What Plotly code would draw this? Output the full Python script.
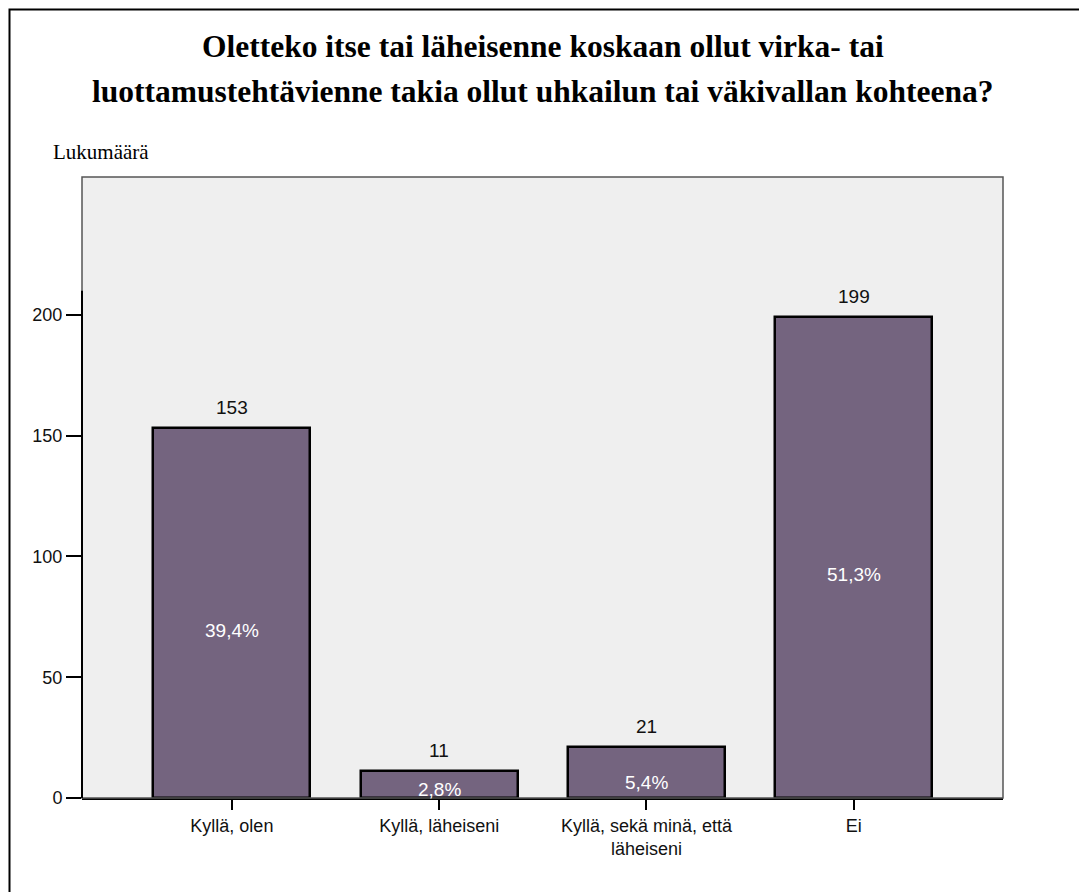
import plotly.graph_objects as go

categories = ["Kyllä, olen", "Kyllä, läheiseni", "Kyllä, sekä minä, että<br>läheiseni", "Ei"]
counts = [153, 11, 21, 199]
percents = ["39,4%", "2,8%", "5,4%", "51,3%"]
y_ticks = [0, 50, 100, 150, 200]

title_lines = [
    "Oletteko itse tai läheisenne koskaan ollut virka- tai",
    "luottamustehtävienne takia ollut uhkailun tai väkivallan kohteena?",
]
y_title = "Lukumäärä"

# page body has an 8px margin; work in screenshot coordinates and offset
OFF = 8
W, H = 1087 - OFF, 892 - OFF
L, T = 82 - OFF, 177 - OFF
pw, ph = 921, 621
R, B = W - L - pw, H - T - ph

def px_x(x):
    return (x - OFF - L) / pw

def px_y(y):
    return 1 - (y - OFF - T) / ph

BAR_COLOR = "#74647f"
SANS = "Liberation Sans, Arial, sans-serif"
SERIF = "Liberation Serif, Times New Roman, serif"

x_idx = list(range(len(categories)))

fig = go.Figure()
fig.add_trace(go.Bar(
    x=x_idx, y=counts, width=0.757,
    marker=dict(color=BAR_COLOR, line=dict(color="black", width=2.5)),
    hoverinfo="skip",
))

# count labels above bars
for i, c in enumerate(counts):
    fig.add_annotation(x=i, y=c, text=str(c), showarrow=False, yshift=21,
                       yanchor="middle",
                       font=dict(family=SANS, size=19, color="#111"))

# percent labels inside bars
shifts = [-17, -5, -10, -17]
for i, (c, p) in enumerate(zip(counts, percents)):
    fig.add_annotation(x=i, y=c / 2, text=p, showarrow=False, yshift=shifts[i],
                       font=dict(family=SANS, size=19, color="white"))

# title lines
for k, line in enumerate(title_lines):
    fig.add_annotation(x=0.5, xref="paper", xanchor="center",
                       y=px_y(47 + 44 * k), yref="paper", yanchor="middle",
                       text=f"<b>{line}</b>", showarrow=False,
                       font=dict(family=SERIF, size=31.5, color="black"))

fig.add_annotation(x=px_x(51), xref="paper", xanchor="left",
                   y=px_y(152), yref="paper", yanchor="middle",
                   text=y_title, showarrow=False,
                   font=dict(family=SERIF, size=21, color="black"))

# plot frame (grey) and outer border
fig.add_shape(type="rect", xref="paper", yref="paper", x0=0, x1=1, y0=0, y1=1,
              line=dict(color="#555", width=1.5), layer="above")
fig.add_shape(type="rect", xref="paper", yref="paper",
              x0=px_x(9.5), x1=px_x(1110), y0=px_y(915), y1=px_y(9.5),
              line=dict(color="black", width=2))
# black y-axis segment (lower part)
fig.add_shape(type="line", xref="paper", yref="y", x0=0, x1=0, y0=0, y1=210,
              line=dict(color="black", width=2), layer="above")

fig.update_layout(
    width=W, height=H,
    margin=dict(l=L, r=R, t=T, b=B),
    paper_bgcolor="white", plot_bgcolor="#efefef",
    showlegend=False,
    bargap=0,
    xaxis=dict(
        range=[-0.723, 3.72], tickmode="array", tickvals=x_idx, ticktext=categories,
        ticks="outside", ticklen=10, tickwidth=2, tickcolor="black",
        showgrid=False, zeroline=False, showline=True, linecolor="black", linewidth=2,
        tickfont=dict(family=SANS, size=18, color="#111"),
    ),
    yaxis=dict(
        range=[0, 257.1], tickmode="array", tickvals=y_ticks,
        ticks="outside", ticklen=15, tickwidth=2, tickcolor="black",
        showgrid=False, zeroline=False, showline=False,
        tickfont=dict(family=SANS, size=18, color="#111"),
    ),
)

fig.write_html("out.html")
